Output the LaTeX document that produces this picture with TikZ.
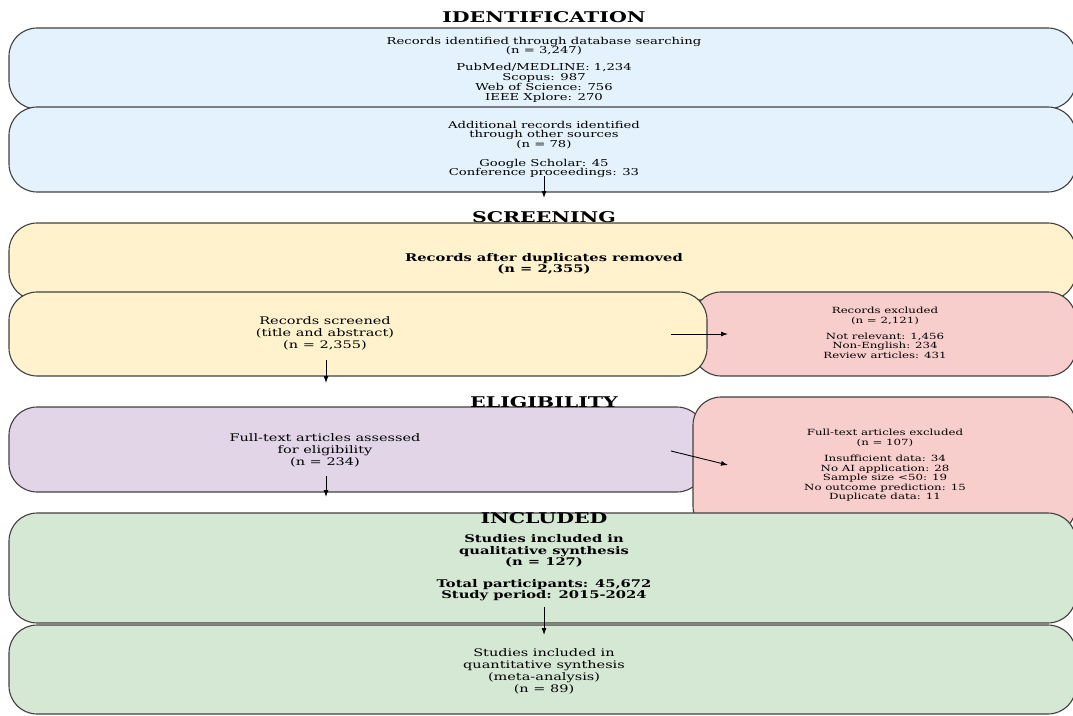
\documentclass[tikz,border=0pt]{standalone}
\usepackage{fontspec}
\setmainfont{DejaVu Serif}
\usetikzlibrary{arrows.meta}
\definecolor{cblue}{HTML}{E3F2FD}
\definecolor{cyellow}{HTML}{FFF2CC}
\definecolor{cred}{HTML}{F8CECC}
\definecolor{cpurple}{HTML}{E1D5E7}
\definecolor{cgreen}{HTML}{D5E8D4}
\begin{document}
\begin{tikzpicture}[x=1pt,y=-1pt,
  box/.style={draw=black!75, line width=1.1pt, rounded corners=28pt, inner sep=0pt, outer sep=0pt, yscale=0.7},
  txs/.style={align=center, inner sep=0pt, yscale=0.72, font=\fontsize{11.8}{13.3}\selectfont},
  txm/.style={align=center, inner sep=0pt, yscale=0.72, font=\fontsize{13.2}{13.6}\selectfont},
  txl/.style={align=center, inner sep=0pt, yscale=0.72, font=\fontsize{14.5}{16.6}\selectfont},
  txb/.style={align=center, inner sep=0pt, yscale=0.72, font=\fontsize{14.7}{16}\selectfont\bfseries},
  ttl/.style={inner sep=0pt, yscale=0.72, font=\fontsize{20.5}{24}\selectfont\bfseries},
  arr/.style={line width=0.9pt, -{Latex[length=7pt,width=5pt]}}]
\useasboundingbox (0,0) rectangle (1073,715);
\clip (0,0) rectangle (1073,715);
% boxes
\node[box, fill=cblue, minimum width=1067pt, minimum height=115.7pt] (b1) at (542.5,68.5) {};
\node[box, fill=cblue, minimum width=1067pt, minimum height=121.4pt] (b2) at (542.5,149.5) {};
\node[box, fill=cyellow, minimum width=1067pt, minimum height=110pt] (b3) at (542.5,261.5) {};
\node[box, fill=cred, minimum width=383pt, minimum height=120pt] (b5) at (884.5,334) {};
\node[box, fill=cyellow, minimum width=698pt, minimum height=120pt] (b4) at (358,334) {};
\node[box, fill=cpurple, minimum width=696pt, minimum height=121.4pt] (b6) at (357,449.5) {};
\node[box, fill=cred, minimum width=383pt, minimum height=195.7pt] (b7) at (884.5,465.5) {};
\node[box, fill=cgreen, minimum width=1067pt, minimum height=157.1pt] (b8) at (542.5,568) {};
\node[box, fill=cgreen, minimum width=1067pt, minimum height=127.1pt] (b9) at (542.5,669.5) {};
% texts
\node[txm] (t1) at (544,69.5) {Records identified through database searching\\(n = 3,247)\\[10pt]PubMed/MEDLINE: 1,234\\Scopus: 987\\Web of Science: 756\\IEEE Xplore: 270};
\node[txm] (t2) at (544,149.5) {Additional records identified\\through other sources\\(n = 78)\\[12pt]Google Scholar: 45\\Conference proceedings: 33};
\node[txb] (t3) at (544,264) {Records after duplicates removed\\(n = 2,355)};
\node[txl] (t4) at (325,333) {Records screened\\(title and abstract)\\(n = 2,355)};
\node[txs] (t5) at (885,333) {Records excluded\\(n = 2,121)\\[9pt]Not relevant: 1,456\\Non-English: 234\\Review articles: 431};
\node[txl] (t6) at (325,450) {Full-text articles assessed\\for eligibility\\(n = 234)};
\node[txs] (t7) at (885,465.5) {Full-text articles excluded\\(n = 107)\\[9pt]Insufficient data: 34\\No AI application: 28\\Sample size <50: 19\\No outcome prediction: 15\\Duplicate data: 11};
\node[txb] (t8) at (544,568) {Studies included in\\qualitative synthesis\\(n = 127)\\[14pt]Total participants: 45,672\\Study period: 2015-2024};
\node[txl] (t9) at (544,671) {Studies included in\\quantitative synthesis\\(meta-analysis)\\(n = 89)};
% arrows
\coordinate (a1s) at (544,176); \coordinate (a1e) at (544,198);
\coordinate (a2s) at (671,334); \coordinate (a2e) at (728,334);
\coordinate (a3s) at (326,360); \coordinate (a3e) at (326,383);
\coordinate (a4s) at (671,451); \coordinate (a4e) at (728,465);
\coordinate (a5s) at (326,476); \coordinate (a5e) at (326,497);
\coordinate (a6s) at (544,607); \coordinate (a6e) at (544,635);
\draw[arr] (a1s) -- (a1e);
\draw[arr] (a2s) -- (a2e);
\draw[arr] (a3s) -- (a3e);
\draw[arr] (a4s) -- (a4e);
\draw[arr] (a5s) -- (a5e);
\draw[arr] (a6s) -- (a6e);
% titles
\node[ttl] (h1) at (544,17) {IDENTIFICATION};
\node[ttl] (h2) at (544,217) {SCREENING};
\node[ttl] (h3) at (544,402) {ELIGIBILITY};
\node[ttl] (h4) at (544,518) {INCLUDED};
\end{tikzpicture}
\end{document}
